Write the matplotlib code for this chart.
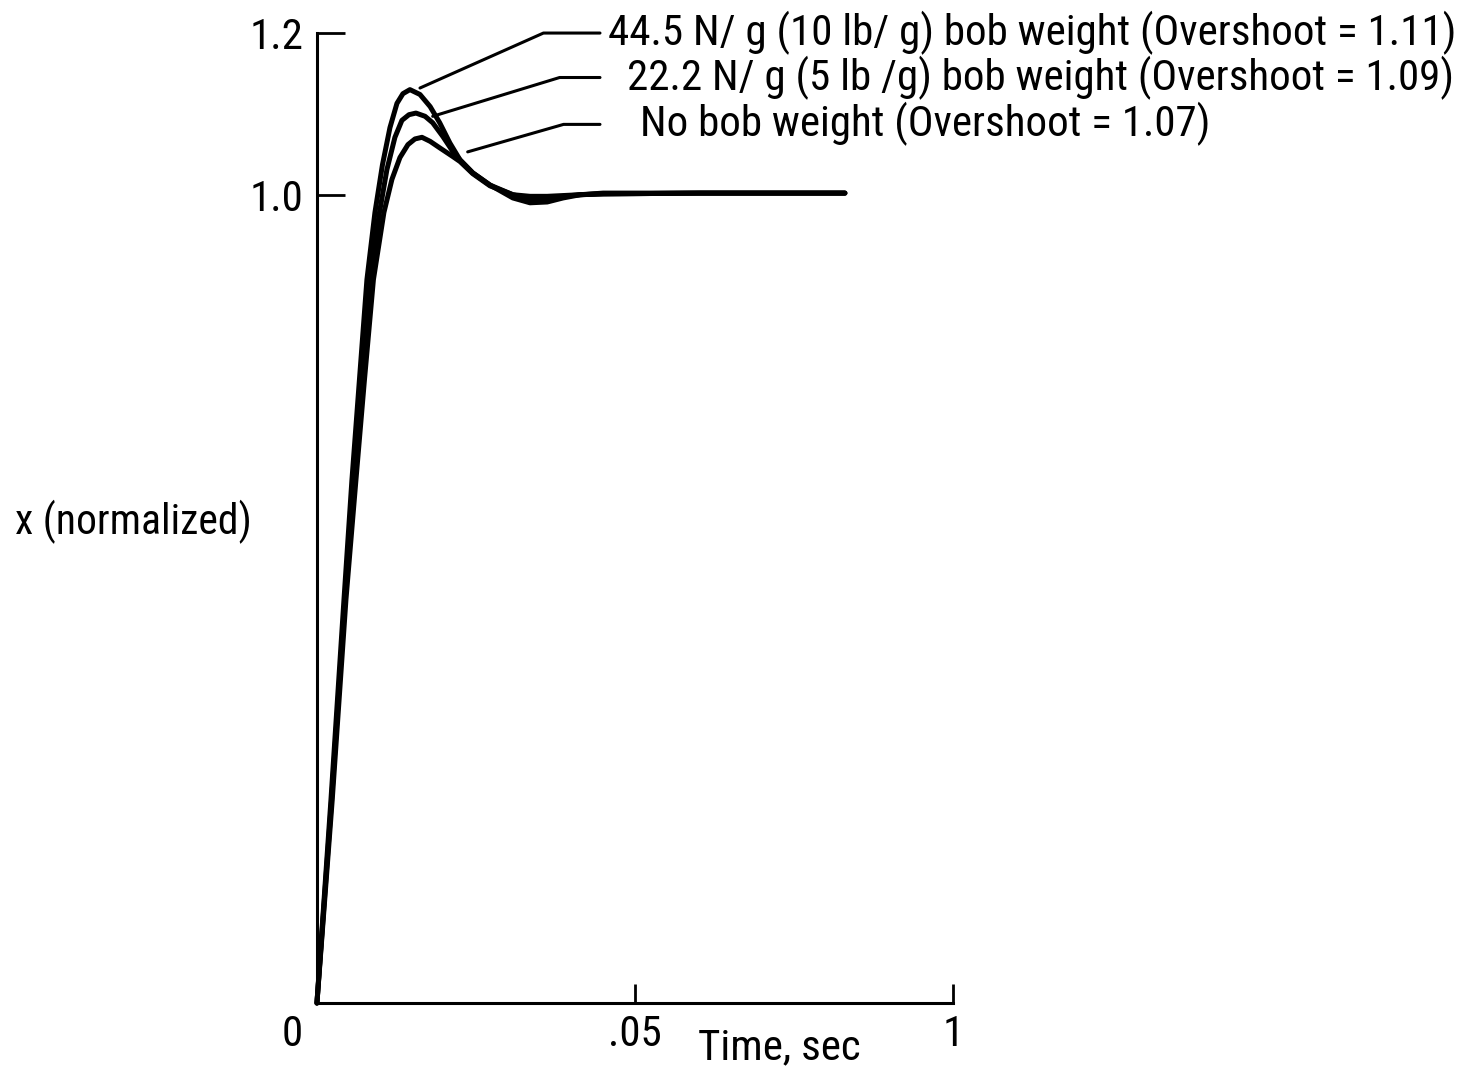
import matplotlib.pyplot as plt
from matplotlib import font_manager

# step response
t_44 = [0, 0.0022, 0.00425, 0.0055, 0.00668, 0.00786, 0.00912, 0.0103, 0.01148, 0.01258,
        0.01352, 0.01462, 0.0162, 0.0178, 0.0193, 0.0209, 0.0225, 0.0245, 0.0272,
        0.0308, 0.0335, 0.0362, 0.0387, 0.0414, 0.0450, 0.0602, 0.0830]
x_44 = [0, 0.251, 0.499, 0.647, 0.771, 0.895, 0.978, 1.037, 1.083, 1.113,
        1.125, 1.130, 1.124, 1.109, 1.089, 1.064, 1.043, 1.027, 1.012,
        0.996, 0.990, 0.991, 0.996, 1.000, 1.002, 1.002, 1.002]

t_22 = [0, 0.0023, 0.0044, 0.00582, 0.00708, 0.00833, 0.00983, 0.0110, 0.01226, 0.01336,
        0.01447, 0.01557, 0.0170, 0.0182, 0.0198, 0.0214, 0.0225, 0.0245, 0.0272,
        0.0308, 0.0335, 0.0362, 0.0387, 0.0414, 0.0450, 0.0602, 0.0830]
x_22 = [0, 0.251, 0.499, 0.647, 0.771, 0.895, 0.978, 1.031, 1.071, 1.092,
        1.099, 1.101, 1.097, 1.089, 1.072, 1.053, 1.043, 1.027, 1.012,
        1.000, 0.995, 0.995, 0.998, 1.000, 1.001, 1.002, 1.002]

t_0 = [0, 0.0024, 0.00456, 0.00613, 0.00747, 0.00888, 0.01053, 0.01179, 0.01305, 0.01431,
       0.01541, 0.01651, 0.0178, 0.0193, 0.0214, 0.0225, 0.0245, 0.0272, 0.0308,
       0.0335, 0.0362, 0.0414, 0.0450, 0.0602, 0.0830]
x_0 = [0, 0.251, 0.499, 0.647, 0.771, 0.895, 0.978, 1.019, 1.046, 1.062,
       1.069, 1.071, 1.066, 1.058, 1.047, 1.041, 1.026, 1.011, 1.000,
       0.998, 0.998, 1.000, 1.001, 1.002, 1.002]

labels = [
    "44.5 N/ g (10 lb/ g) bob weight (Overshoot = 1.11)",
    "22.2 N/ g (5 lb /g) bob weight (Overshoot = 1.09)",
    "No bob weight (Overshoot = 1.07)",
]

x_ticks = [0.05, 0.1]
x_ticklabels = [".05", "1"]
y_ticks = [1.0, 1.2]
y_ticklabels = ["1.0", "1.2"]

# narrow sans if one is around, otherwise a plain one
installed = {f.name for f in font_manager.fontManager.ttflist}
font = "Liberation Sans"
for name in ["Liberation Sans Narrow", "DejaVu Sans Condensed", "Roboto Condensed", "Open Sans Condensed"]:
    if name in installed:
        font = name
        break
narrow = font != "Liberation Sans"
fs = 31 if narrow else 26
plt.rcParams["font.family"] = [font, "DejaVu Sans"]

fig = plt.figure(figsize=(14.81, 10.73), dpi=100)
ax = fig.add_axes([0.214, 0.0652, 0.4295, 0.904])

for t, x in [(t_44, x_44), (t_22, x_22), (t_0, x_0)]:
    ax.plot(t, x, color="black", lw=3.6, solid_capstyle="round",
            solid_joinstyle="round", clip_on=False)

ax.set_xlim(0, 0.1)
ax.set_ylim(0, 1.2)
ax.spines["top"].set_visible(False)
ax.spines["right"].set_visible(False)
for s in ["left", "bottom"]:
    ax.spines[s].set_linewidth(2.2)

ax.set_xticks(x_ticks)
ax.set_xticklabels(x_ticklabels)
ax.set_yticks(y_ticks)
ax.set_yticklabels(y_ticklabels)
ax.tick_params(axis="x", direction="in", length=14, width=2, labelsize=fs, pad=8)
ax.tick_params(axis="y", direction="in", length=20, width=2, labelsize=fs, pad=10)

ax.annotate("0", xy=(0, 0), xytext=(-18, -8), textcoords="offset points",
            ha="center", va="top", fontsize=fs, annotation_clip=False)

fig.text(15 / 1481, 1 - 522 / 1073, "x (normalized)", ha="left", va="center", fontsize=30)
fig.text(779 / 1481, 1 - 1048 / 1073, "Time, sec", ha="center", va="center", fontsize=fs)

# leader lines: (point on curve, end of leader, text start, bend angle)
leaders = [
    ((t_44[12], x_44[12] + 0.008), (0.0445, 1.200), 0.0457, 24),
    ((t_22[13], x_22[13] + 0.008), (0.0445, 1.145), 0.0488, 17),
    ((t_0[15] + 0.0012, x_0[15] + 0.012), (0.0445, 1.087), 0.0508, 16),
]
for (xy, end, tx, ang), lab in zip(leaders, labels):
    ax.annotate("", xy=xy, xytext=end, annotation_clip=False,
                arrowprops=dict(arrowstyle="-", lw=2.2, color="black",
                                shrinkA=0, shrinkB=0,
                                connectionstyle=f"angle,angleA=0,angleB={ang},rad=0"))
    ax.text(tx, end[1], lab, ha="left", va="center", fontsize=fs, clip_on=False)

fig.savefig("out.png", dpi=100, facecolor="white")
